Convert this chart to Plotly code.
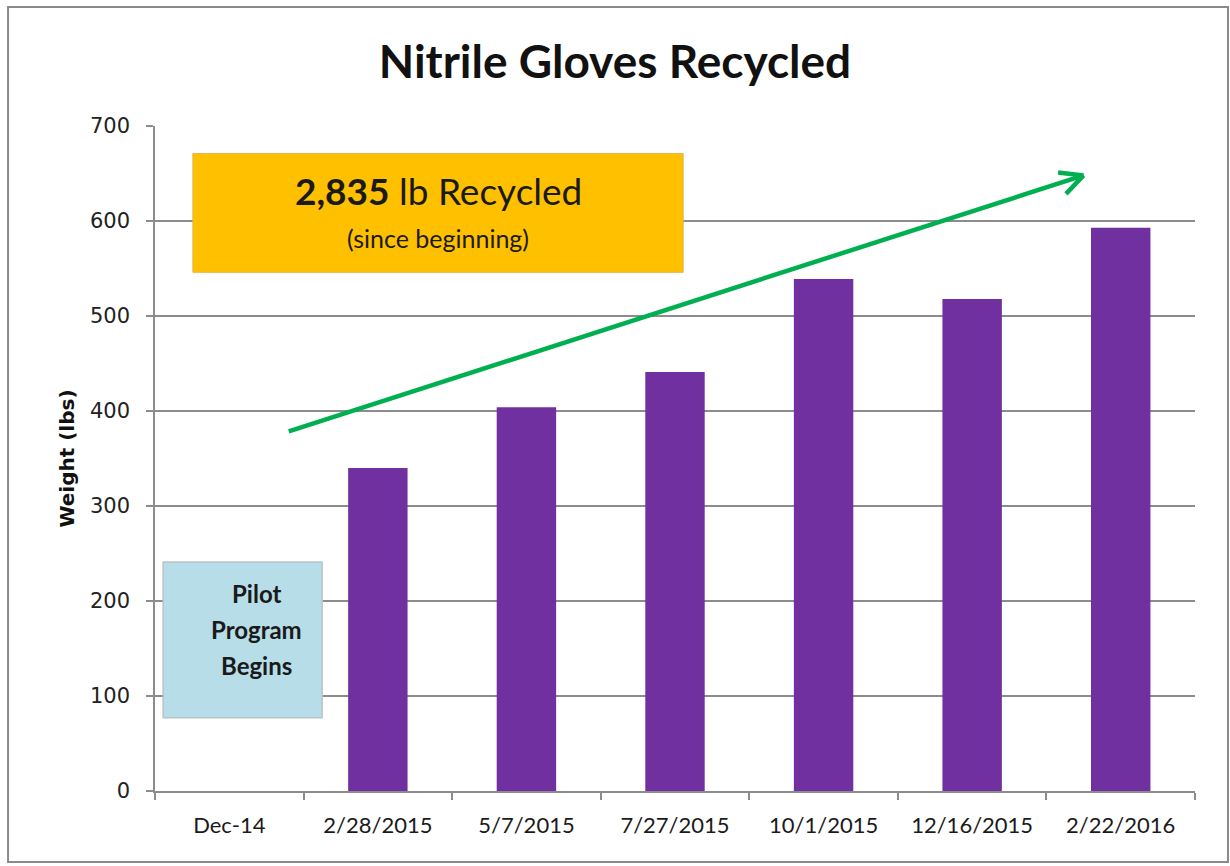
import plotly.graph_objects as go

# Collection dates and pounds of nitrile gloves recycled
dates = ["Dec-14", "2/28/2015", "5/7/2015", "7/27/2015", "10/1/2015", "12/16/2015", "2/22/2016"]
weights_lbs = [0, 340, 404, 441, 539, 518, 593]
total_lbs = 2835

y_ticks = [0, 100, 200, 300, 400, 500, 600, 700]
pilot_lines = ["Pilot", "Program", "Begins"]

BAR = "#7030A0"
GRID = "#8c8c8c"
GREEN = "#00B050"
TEXT = "#1a1a1a"

fig = go.Figure()
fig.add_trace(go.Bar(
    x=dates, y=weights_lbs, marker=dict(color=BAR, line=dict(width=0)),
    width=0.4, hoverinfo="x+y",
))

shapes = [
    # outer chart border
    dict(type="rect", xref="paper", yref="paper", x0=-0.1413, x1=1.0317, y0=-0.1068, y1=1.1789,
         line=dict(color="#8a8a8a", width=2), fillcolor="rgba(0,0,0,0)", layer="below"),
    # total recycled callout
    dict(type="rect", xref="x", yref="y", x0=-0.245, x1=3.055, y0=546, y1=671,
         fillcolor="#FFC000", line=dict(color="#e0b64a", width=1), layer="above"),
    # pilot program callout
    dict(type="rect", xref="x", yref="y", x0=-0.445, x1=0.625, y0=77, y1=241,
         fillcolor="#B7DEE8", line=dict(color="#b8c4c8", width=1.5), layer="above"),
]

annotations = [
    dict(xref="x", yref="y", x=1.405, y=632, showarrow=False,
         text=f"<b>{total_lbs:,}</b> lb Recycled", font=dict(family="Lato", size=37, color=TEXT)),
    dict(xref="x", yref="y", x=1.405, y=582, showarrow=False,
         text="(since beginning)", font=dict(family="Lato", size=25, color=TEXT)),
    # upward trend arrow shaft
    dict(xref="x", yref="y", axref="x", ayref="y",
         x=5.75, y=648, ax=0.39, ay=378, text="", showarrow=True,
         arrowhead=0, arrowwidth=4.5, arrowcolor=GREEN),
]

# open chevron at the arrow tip
for dx, dy in [(-27, -3), (-19, 20)]:
    annotations.append(dict(xref="x", yref="y", x=5.75, y=648, axref="pixel", ayref="pixel",
                            ax=dx, ay=dy, text="", showarrow=True, arrowhead=0,
                            arrowwidth=4.5, arrowcolor=GREEN))

for i, line in enumerate(pilot_lines):
    annotations.append(dict(xref="x", yref="y", x=0.18, y=208 - 38 * i, showarrow=False,
                            text=f"<b>{line}</b>", font=dict(family="Lato", size=24, color=TEXT)))

fig.update_layout(
    width=1230, height=866,
    margin=dict(l=155, r=35, t=126, b=75),
    paper_bgcolor="white", plot_bgcolor="white",
    title=dict(text="<b>Nitrile Gloves Recycled</b>", x=0.5, xanchor="center",
               y=0.928, yanchor="middle",
               font=dict(family="Lato", size=46, color="#111111")),
    showlegend=False, bargap=0.6,
    shapes=shapes, annotations=annotations,
    xaxis=dict(
        type="category", range=[-0.5, 6.5], tickson="boundaries",
        ticks="outside", ticklen=7, tickcolor=GRID, tickwidth=1.5,
        showline=True, linecolor=GRID, linewidth=1.5,
        tickfont=dict(family="Lato", size=22, color=TEXT),
        showgrid=False, ticklabelstandoff=14,
    ),
    yaxis=dict(
        range=[0, 700], tickvals=y_ticks, ticks="outside", ticklen=7,
        tickcolor=GRID, tickwidth=1.5, showline=True, linecolor=GRID, linewidth=1.5,
        showgrid=True, gridcolor=GRID, gridwidth=1.5, zeroline=False,
        tickfont=dict(family="DejaVu Sans", size=21, color="#222222"),
        ticklabelstandoff=12,
        title=dict(text="<b>Weight (lbs)</b>", standoff=10,
                   font=dict(family="DejaVu Sans", size=20, color="#111111")),
    ),
)

fig.write_html("out.html")
